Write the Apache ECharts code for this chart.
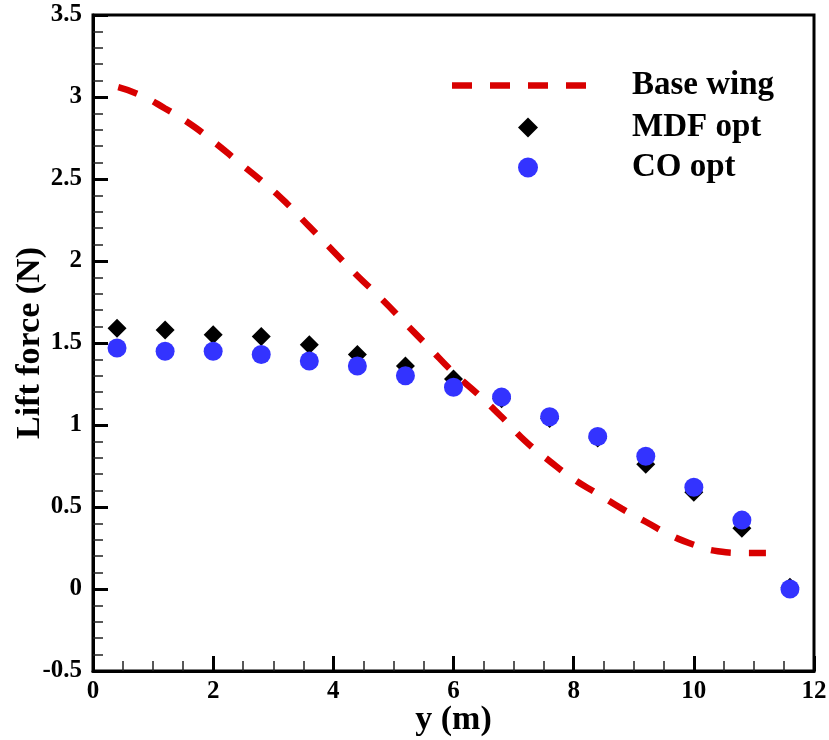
<!DOCTYPE html>
<html>
<head>
<meta charset="utf-8">
<script src="https://cdn.jsdelivr.net/npm/echarts@6/dist/echarts.min.js"></script>
<style>
html,body{margin:0;padding:0;background:#fff;}
#chart{width:829px;height:740px;}
</style>
</head>
<body>
<div id="chart"></div>
<script>
// Base wing lift distribution (dashed curve)
const baseX = [0.42, 0.8, 1.2, 1.6, 2.0, 2.4, 2.8, 3.2, 3.6, 4.0, 4.4, 4.8, 5.2, 5.6, 6.0, 6.4, 6.8, 7.2, 7.6, 8.0, 8.4, 8.8, 9.2, 9.6, 10.0, 10.4, 10.8, 11.2];
const baseY = [3.06, 3.01, 2.93, 2.84, 2.73, 2.61, 2.49, 2.36, 2.21, 2.06, 1.91, 1.77, 1.62, 1.47, 1.32, 1.19, 1.05, 0.90, 0.78, 0.67, 0.58, 0.49, 0.41, 0.33, 0.27, 0.23, 0.22, 0.22];
// Optimized stations
const stationX = [0.4, 1.2, 2.0, 2.8, 3.6, 4.4, 5.2, 6.0, 6.8, 7.6, 8.4, 9.2, 10.0, 10.8, 11.6];
const mdfY = [1.59, 1.58, 1.55, 1.54, 1.49, 1.43, 1.36, 1.28, 1.16, 1.04, 0.92, 0.76, 0.59, 0.37, 0.01];
const coY  = [1.47, 1.45, 1.45, 1.43, 1.39, 1.36, 1.30, 1.23, 1.17, 1.05, 0.93, 0.81, 0.62, 0.42, 0.00];
const seriesNames = ['Base wing', 'MDF opt', 'CO opt'];

const FONT = 'Liberation Serif';
const pair = (xs, ys) => xs.map((x, i) => [x, ys[i]]);
// dashed-line legend glyph: four 20px dashes separated by 18px gaps
const dashIcon = 'path://M0,0h20v6.5h-20z M38,0h20v6.5h-20z M76,0h20v6.5h-20z M114,0h20v6.5h-20z';

const chart = echarts.init(document.getElementById('chart'), null, {renderer: 'canvas'});
const legendText = (pad) => ({
  fontFamily: FONT, fontWeight: 'bold', fontSize: 33, color: '#000',
  padding: [0, 0, 0, pad]
});
chart.setOption({
  animation: false,
  backgroundColor: '#fff',
  grid: {
    left: 93, right: 15, top: 15, bottom: 69,
    outerBoundsMode: 'none', containLabel: false,
    show: true, borderColor: '#000', borderWidth: 3, backgroundColor: 'transparent'
  },
  legend: [
    {
      data: [{name: seriesNames[0], icon: dashIcon}], left: 452, top: 69, padding: 0,
      itemWidth: 134, itemHeight: 20, selectedMode: false,
      itemStyle: {color: '#d80000'},
      textStyle: legendText(41)
    },
    {
      data: [seriesNames[1]], left: 518, top: 111, padding: 0,
      itemWidth: 20, itemHeight: 20, selectedMode: false,
      textStyle: legendText(89)
    },
    {
      data: [seriesNames[2]], left: 518, top: 151, padding: 0,
      itemWidth: 20, itemHeight: 20, selectedMode: false,
      textStyle: legendText(89)
    }
  ],
  xAxis: {
    type: 'value', min: 0, max: 12, interval: 2,
    name: 'y (m)', nameLocation: 'middle', nameGap: 32, nameMoveOverlap: false,
    nameTextStyle: {fontFamily: FONT, fontWeight: 'bold', fontSize: 34, color: '#000'},
    axisLine: {show: true, onZero: false, lineStyle: {color: '#000', width: 3}},
    axisTick: {show: true, inside: true, length: 15, lineStyle: {color: '#000', width: 3}},
    minorTick: {show: true, splitNumber: 4, length: 10, lineStyle: {color: '#222', width: 1.5}},
    axisLabel: {margin: 8, fontFamily: FONT, fontWeight: 'bold', fontSize: 25, color: '#000'},
    splitLine: {show: false}
  },
  yAxis: {
    type: 'value', min: -0.5, max: 3.5, interval: 0.5,
    name: 'Lift force (N)', nameLocation: 'middle', nameGap: 46, nameMoveOverlap: false,
    nameTextStyle: {fontFamily: FONT, fontWeight: 'bold', fontSize: 34, color: '#000'},
    axisLine: {show: true, onZero: false, lineStyle: {color: '#000', width: 3}},
    axisTick: {show: true, inside: true, length: 15, lineStyle: {color: '#000', width: 3}},
    minorTick: {show: true, splitNumber: 5, length: 10, lineStyle: {color: '#222', width: 1.5}},
    axisLabel: {margin: 11, fontFamily: FONT, fontWeight: 'bold', fontSize: 25, color: '#000'},
    splitLine: {show: false}
  },
  series: [
    {
      name: seriesNames[0], type: 'line', data: pair(baseX, baseY),
      smooth: true, symbol: 'none', showSymbol: false, z: 2,
      lineStyle: {color: '#d80000', width: 6.5, type: [20, 18], cap: 'butt'},
      itemStyle: {color: '#d80000'}
    },
    {
      name: seriesNames[1], type: 'scatter', data: pair(stationX, mdfY),
      symbol: 'diamond', symbolSize: 19, z: 3,
      itemStyle: {color: '#000', opacity: 1}
    },
    {
      name: seriesNames[2], type: 'scatter', data: pair(stationX, coY),
      symbol: 'circle', symbolSize: 19, z: 4,
      itemStyle: {color: '#3333ff', opacity: 1}
    }
  ]
});
</script>
</body>
</html>
